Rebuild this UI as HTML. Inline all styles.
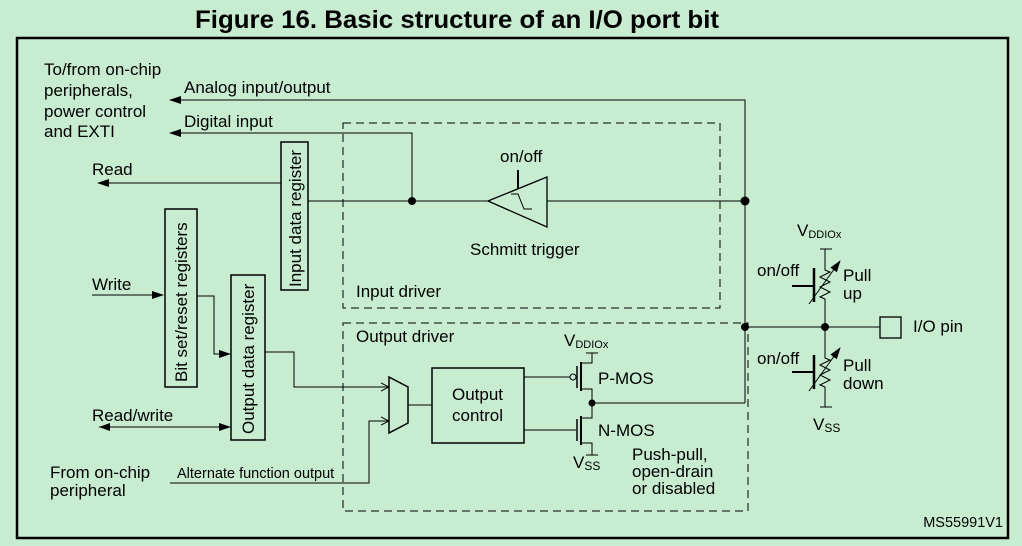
<!DOCTYPE html>
<html><head><meta charset="utf-8"><style>
html,body{margin:0;padding:0;background:#c8ecd0;}
svg{display:block;}
text{font-family:"Liberation Sans",Arial,sans-serif;fill:#000;}
</style></head><body>
<svg width="1022" height="546" viewBox="0 0 1022 546" xmlns="http://www.w3.org/2000/svg">
<defs>
<marker id="a" markerWidth="12" markerHeight="8" refX="11" refY="4" orient="auto" markerUnits="userSpaceOnUse"><path d="M0,0 L12,4 L0,8 Z" fill="#000"/></marker>
<marker id="o" markerWidth="10" markerHeight="10" refX="9" refY="5" orient="auto" markerUnits="userSpaceOnUse"><path d="M1,1 L9,5 L1,9" fill="none" stroke="#000" stroke-width="1"/></marker>
</defs>
<rect width="1022" height="546" fill="#c8ecd0"/>
<text x="457" y="28" font-size="25" font-weight="bold" text-anchor="middle" textLength="524" lengthAdjust="spacingAndGlyphs">Figure 16. Basic structure of an I/O port bit</text>
<rect x="17" y="38" width="991" height="500" fill="none" stroke="#000" stroke-width="2.5"/>

<g font-size="17">
<text x="44" y="75">To/from on-chip</text>
<text x="44" y="96">peripherals,</text>
<text x="44" y="117">power control</text>
<text x="44" y="137">and EXTI</text>
<text x="184" y="93">Analog input/output</text>
<text x="184" y="127">Digital input</text>
<text x="92" y="175">Read</text>
<text x="92" y="290">Write</text>
<text x="92" y="421">Read/write</text>
<text x="50" y="478">From on-chip</text>
<text x="50" y="496">peripheral</text>
<text x="500" y="162">on/off</text>
<text x="470" y="255">Schmitt trigger</text>
<text x="356" y="297">Input driver</text>
<text x="356" y="342">Output driver</text>
<text x="452" y="400">Output</text>
<text x="452" y="421">control</text>
<text x="598" y="384">P-MOS</text>
<text x="598" y="436">N-MOS</text>
<text x="632" y="460">Push-pull,</text>
<text x="632" y="477">open-drain</text>
<text x="632" y="494">or disabled</text>
<text x="757" y="276">on/off</text>
<text x="843" y="281">Pull</text>
<text x="843" y="299">up</text>
<text x="757" y="364">on/off</text>
<text x="843" y="371">Pull</text>
<text x="843" y="389">down</text>
<text x="913" y="332">I/O pin</text>
<text x="797" y="236">V<tspan font-size="11" dy="2">DDIOx</tspan></text>
<text x="813" y="430">V<tspan font-size="12" dy="2">SS</tspan></text>
<text x="564" y="346">V<tspan font-size="11" dy="2">DDIOx</tspan></text>
<text x="573" y="468">V<tspan font-size="12" dy="2">SS</tspan></text>
</g>
<text x="177" y="478" font-size="14.5">Alternate function output</text>
<text x="1003" y="527" font-size="14.5" text-anchor="end">MS55991V1</text>

<g fill="none" stroke="#000" stroke-width="1" stroke-dasharray="8,5">
<rect x="343" y="123" width="377" height="185"/>
<rect x="343" y="323" width="405" height="188"/>
</g>

<g fill="none" stroke="#000" stroke-width="1.5">
<rect x="281" y="142" width="27" height="148"/>
<rect x="165" y="209" width="32" height="178"/>
<rect x="231" y="275" width="34" height="165"/>
<rect x="432" y="368" width="92" height="75"/>
<path d="M389,377 L408,387 L408,423 L389,433 Z"/>
</g>
<g font-size="17">
<text transform="translate(301,287) rotate(-90)">Input data register</text>
<text transform="translate(187,382) rotate(-90)">Bit set/reset registers</text>
<text transform="translate(254,434) rotate(-90)">Output data register</text>
</g>

<g fill="none" stroke="#000" stroke-width="1">
<path d="M745,403 L745,100 L170,100" marker-end="url(#a)"/>
<path d="M412,201 L412,133 L170,133" marker-end="url(#a)"/>
<path d="M281,183 L98,183" marker-end="url(#a)"/>
<path d="M308,201 L488,201"/>
<path d="M547,201 L745,201"/>
<path d="M488,201 L547,177 L547,227 Z" stroke-width="1.3"/>
<path d="M518,170 L518,189" stroke-width="2"/>
<path d="M511,194 L518,194 L524,209 L532,209" />
<path d="M92,295 L163,295" marker-end="url(#a)"/>
<path d="M197,296 L214,296 L214,354 L230,354" marker-end="url(#a)"/>
<path d="M99,427 L230,427" marker-end="url(#a)"/>
<path d="M265,352 L294,352 L294,387 L389,387" marker-end="url(#o)"/>
<path d="M170,483 L369,483 L369,421 L389,421" marker-end="url(#o)"/>
<path d="M408,405 L432,405"/>
<path d="M524,377 L570,377"/>
<circle cx="573" cy="377" r="3" fill="#c8ecd0"/>
<path d="M524,430 L576,430"/>
<path d="M577,366 L577,388 M577,419 L577,441" stroke-width="1.5"/>
<path d="M581,362 L581,391 M581,416 L581,445" stroke-width="2"/>
<path d="M581,363 L592,363 L592,353 M586,353 L598,353"/>
<path d="M581,389 L592,389 L592,418 L581,418"/>
<path d="M581,443 L592,443 L592,455 M586,455 L598,455"/>
<path d="M592,403 L745,403"/>
<path d="M745,327 L880,327"/>
<rect x="880" y="317" width="21" height="21" stroke-width="1.3"/>
<path d="M820,249 L832,249 M825,249 L825,270 L830,272 L820,277 L830,282 L820,287 L830,292 L820,297 L825,299 L825,327"/>
<path d="M825,327 L825,358 L830,360 L820,365 L830,370 L820,375 L830,380 L820,385 L825,387 L825,407 M820,407 L832,407"/>
<path d="M814,268 L814,302 M814,355 L814,389" stroke-width="2.5"/>
<path d="M792,286 L813,286 M792,372 L813,372" stroke-width="2"/>
<path d="M809,304 L840,261" marker-end="url(#a)"/>
<path d="M809,391 L840,348" marker-end="url(#a)"/>
</g>
<path d="M99,427 L110,423 L110,431 Z" fill="#000"/>
<g fill="#000">
<circle cx="412" cy="201" r="4"/>
<circle cx="745" cy="201" r="4.5"/>
<circle cx="745" cy="327" r="4"/>
<circle cx="825" cy="327" r="4"/>
<circle cx="592" cy="403" r="3.5"/>
</g>
</svg>
</body></html>
